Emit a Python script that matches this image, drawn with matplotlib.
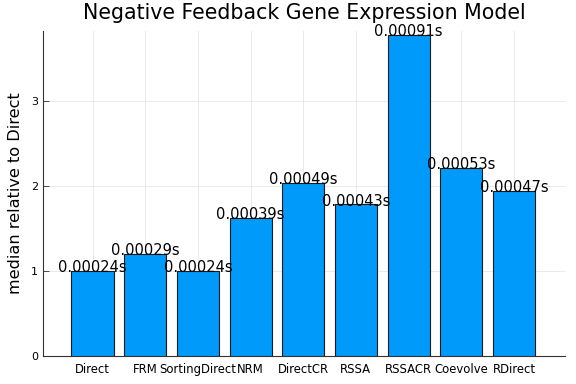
import matplotlib
matplotlib.use("Agg")
import matplotlib.pyplot as plt
import numpy as np

categories = ["Direct", "FRM", "SortingDirect", "NRM", "DirectCR", "RSSA", "RSSACR", "Coevolve", "RDirect"]
relative = [1.0, 1.20, 1.0, 1.62, 2.03, 1.78, 3.77, 2.21, 1.94]
times = ["0.00024s", "0.00029s", "0.00024s", "0.00039s", "0.00049s", "0.00043s", "0.00091s", "0.00053s", "0.00047s"]

fig = plt.figure(figsize=(5.76, 3.84), dpi=100)
ax = fig.add_axes([0.0747, 0.0737, 0.9063, 0.8453])

x = np.arange(len(categories))
ax.bar(x, relative, width=0.8, color="#009AFA", edgecolor="#1a1a1a", linewidth=0.8, zorder=3)
for xi, v, t in zip(x, relative, times):
    ax.text(xi, v + 0.04, t, ha="center", va="center", fontsize=10.5, color="black", zorder=4)

ax.set_xlim(-0.94, 8.97)
ax.set_ylim(0, 3.82)
ax.set_xticks(x)
ax.set_xticklabels(categories, fontsize=8.4)
ax.set_yticks([0, 1, 2, 3])
ax.set_yticklabels(["0", "1", "2", "3"], fontsize=8)
ax.tick_params(direction="in", length=4, width=0.6, color="#333333")
ax.tick_params(axis="x", pad=5)
ax.grid(True, color="#e6e6e6", linewidth=0.6, zorder=0)
ax.set_axisbelow(True)
for s in ["top", "right"]:
    ax.spines[s].set_visible(False)
for s in ["left", "bottom"]:
    ax.spines[s].set_linewidth(0.8)
    ax.spines[s].set_color("#333333")
ax.set_ylabel("median relative to Direct", fontsize=11.6, labelpad=6)
fig.text(0.5277, 0.965, "Negative Feedback Gene Expression Model", fontsize=14.8,
         ha="center", va="center")

fig.savefig("out.png", dpi=100)
